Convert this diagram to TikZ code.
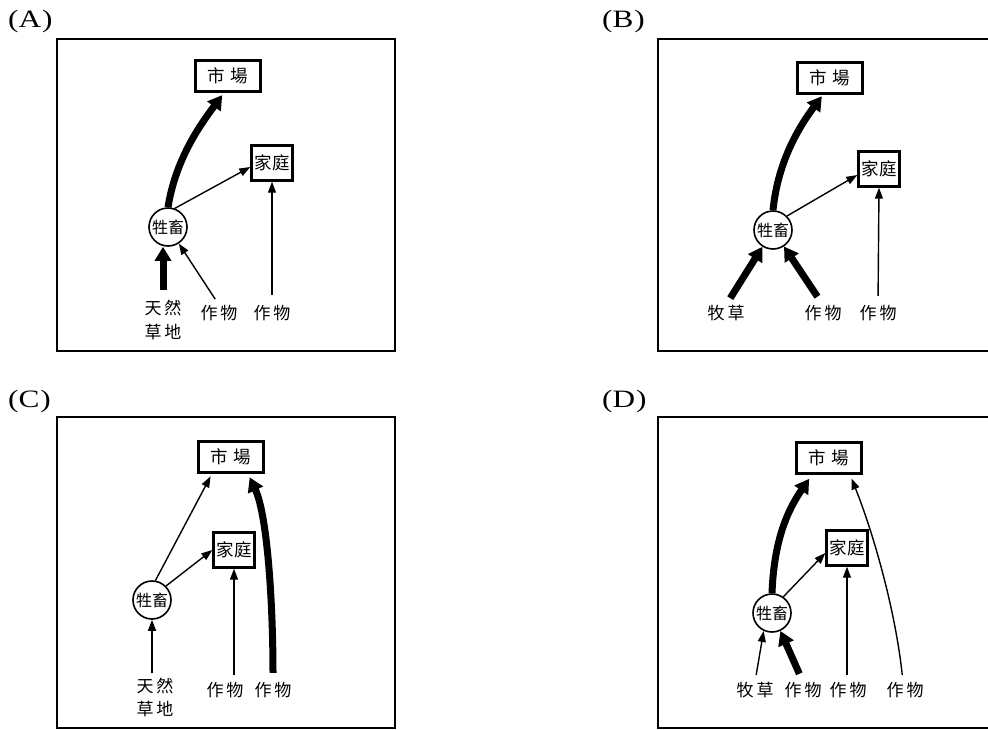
\documentclass[tikz,border=0pt]{standalone}
\usepackage{fontspec}
\setmainfont{Liberation Serif}
\newfontfamily\cjk{Noto Sans CJK TC}
\newfontfamily\tagfont[FakeStretch=1.25]{Liberation Serif}
\usetikzlibrary{arrows.meta}
\tikzset{
  panelframe/.style={line width=2.5pt},
  box/.style={draw, line width=2.4pt, inner sep=0pt, font=\cjk\fontsize{17.5}{17.5}\selectfont},
  mktbox/.style={box, minimum width=65pt, minimum height=31pt},
  homebox/.style={box, minimum width=41pt, minimum height=35pt},
  liv/.style={draw, circle, line width=1.6pt, minimum size=38pt, inner sep=0pt, font=\cjk\fontsize{16}{16}\selectfont},
  lbl/.style={inner sep=0pt, font=\cjk\fontsize{17}{24}\selectfont, align=center},
  lbltight/.style={lbl, font=\cjk\fontsize{17}{23}\selectfont},
  paneltag/.style={anchor=west, inner sep=0pt, font=\tagfont\fontsize{25}{25}\selectfont},
  light/.style={line width=1.4pt, -{Triangle[length=11pt,width=8pt]}},
  heavy/.style={line width=7pt, -{Triangle[length=14pt,width=16pt]}},
}
\begin{document}
\begin{tikzpicture}[x=1pt,y=-1pt]
\useasboundingbox (0,0) rectangle (988,729);
\fill[white] (0,0) rectangle (988,729);

% ---------- Panel A ----------
\node[paneltag] (la) at (8,21) {(A\kern1pt)};
\draw[panelframe] (57,39) rectangle (395,351);
\node[mktbox] (a-mkt) at (228,76) {市\hspace{6pt}場};
\node[homebox] (a-home) at (272,163) {家庭};
\node[liv] (a-liv) at (168,227) {牲畜};
\node[lbl] (a-g) at (163,320) {天\hspace{3pt}然\\草\hspace{3pt}地};
\node[lbl] (a-c1) at (219,313) {作\hspace{3pt}物};
\node[lbl] (a-c2) at (272,313) {作\hspace{3pt}物};
\draw[heavy, shorten <=10pt] (a-g.north) -- (a-g.north |- a-liv.south);
\draw[light, shorten <=7pt] (a-c1.north) -- (a-liv);
\draw[light, shorten <=10pt] (a-c2.north) -- (a-home.south);
\draw[heavy, shorten >=3pt] (a-liv.north) .. controls +(8,-50) and +(-22,30) .. ([xshift=-4pt]a-mkt.south);
\draw[light] (a-liv.70) -- ([yshift=-4pt]a-home.west);

% ---------- Panel B ----------
\node[paneltag] (lb) at (602,21) {(B\kern1pt)};
\draw[panelframe] (988,39) -- (658,39) -- (658,351) -- (988,351);
\node[mktbox] (b-mkt) at (830,78) {市\hspace{6pt}場};
\node[homebox] (b-home) at (879,169) {家庭};
\node[liv] (b-liv) at (773,230) {牲畜};
\node[lbl] (b-p) at (726,313) {牧\hspace{3pt}草};
\node[lbl] (b-c1) at (823,313) {作\hspace{3pt}物};
\node[lbl] (b-c2) at (878,313) {作\hspace{3pt}物};
\draw[heavy, shorten <=8pt] (b-p.north) -- (b-liv);
\draw[heavy, shorten <=10pt] (b-c1.north) -- (b-liv);
\draw[light, shorten <=9pt] (b-c2.north) -- (b-home.south);
\draw[heavy, shorten >=2pt] (b-liv.north) .. controls +(5,-50) and +(-23,31) .. ([xshift=-7pt]b-mkt.south);
\draw[light] (b-liv.45) -- ([yshift=-6pt]b-home.west);

% ---------- Panel C ----------
\node[paneltag] (lc) at (8,401) {(C\kern1pt)};
\draw[panelframe] (57,417) rectangle (395,728);
\node[mktbox] (c-mkt) at (231,457) {市\hspace{6pt}場};
\node[homebox] (c-home) at (234,550) {家庭};
\node[liv] (c-liv) at (152,600) {牲畜};
\node[lbltight] (c-g) at (155,697) {天\hspace{3pt}然\\草\hspace{3pt}地};
\node[lbl] (c-c1) at (225,690) {作\hspace{3pt}物};
\node[lbl] (c-c2) at (273,690) {作\hspace{3pt}物};
\draw[light, shorten <=4pt] (c-g.north -| c-liv.south) -- (c-liv.south);
\draw[light, shorten <=7pt] (c-c1.north -| c-home.south) -- (c-home.south);
\draw[heavy, shorten <=9pt, shorten >=4pt] (c-c2.north) .. controls +(0,-73) and +(20,43) .. ([xshift=17pt]c-mkt.south);
\draw[light, shorten >=3pt] (c-liv.80) -- ([xshift=-19pt]c-mkt.south);
\draw[light] (c-liv.45) -- (c-home.west);

% ---------- Panel D ----------
\node[paneltag] (ld) at (602,401) {(D\kern1pt)};
\draw[panelframe] (988,417) -- (658,417) -- (658,728) -- (988,728);
\node[mktbox] (d-mkt) at (829,458) {市\hspace{6pt}場};
\node[homebox] (d-home) at (847,548) {家庭};
\node[liv] (d-liv) at (772,613) {牲畜};
\node[lbl] (d-p) at (755,690) {牧\hspace{3pt}草};
\node[lbl] (d-c1) at (803,690) {作\hspace{3pt}物};
\node[lbl] (d-c2) at (848,690) {作\hspace{3pt}物};
\node[lbl] (d-c3) at (905,690) {作\hspace{3pt}物};
\draw[light, shorten <=7pt] (d-p.north) -- (d-liv.245);
\draw[heavy, shorten <=9pt] (d-c1.north) -- (d-liv.295);
\draw[light, shorten <=7pt] (d-c2.north -| d-home.south) -- (d-home.south);
\draw[light, shorten <=7pt, shorten >=4pt] ([xshift=-2pt]d-c3.north) .. controls +(-8,-75) and +(22,55) .. ([xshift=21pt]d-mkt.south);
\draw[heavy, shorten >=5pt] (d-liv.north) .. controls +(2,-54) and +(-24,35) .. ([xshift=-17pt]d-mkt.south);
\draw[light] (d-liv.55) -- ([yshift=-5pt]d-home.west);
\end{tikzpicture}
\end{document}
